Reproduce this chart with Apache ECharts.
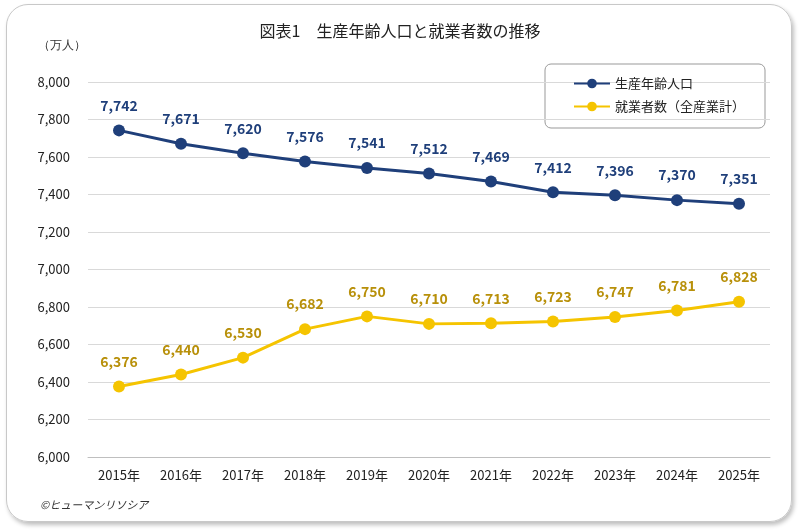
<!DOCTYPE html>
<html><head><meta charset="utf-8">
<script src="https://cdn.jsdelivr.net/npm/echarts@6/dist/echarts.min.js"></script>
<style>
html,body{margin:0;padding:0;background:#fff;}
#frame{position:absolute;left:6px;top:4px;width:786px;height:518px;border:1.5px solid #c8c8c8;border-radius:22px;box-shadow:2px 3px 4px rgba(0,0,0,0.25);box-sizing:border-box;}
#c{position:absolute;left:0;top:0;width:800px;height:530px;}
</style></head>
<body><div id="frame"></div><div id="c"></div>
<script>
const categories=['2015年','2016年','2017年','2018年','2019年','2020年','2021年','2022年','2023年','2024年','2025年'];
const workingAgePop=[7742,7671,7620,7576,7541,7512,7469,7412,7396,7370,7351];
const employed=[6376,6440,6530,6682,6750,6710,6713,6723,6747,6781,6828];
const seriesNames=['生産年齢人口','就業者数（全産業計）'];
const font='"Noto Sans CJK JP","Noto Sans",sans-serif';
const chart=echarts.init(document.getElementById('c'));
chart.setOption({
  animation:false,
  textStyle:{fontFamily:font},
  title:{text:'図表1　生産年齢人口と就業者数の推移',left:'center',top:18,textStyle:{fontSize:16,fontWeight:'normal',color:'#222',fontFamily:font}},
  graphic:[
    {type:'text',left:38,top:40,style:{text:'（万人）',fontSize:12,fill:'#333',font:'12px '+font}},
    {type:'text',left:40,top:499,style:{text:'©ヒューマンリソシア',fill:'#333',font:'italic 11px '+font}},
    {type:'rect',shape:{x:545,y:64,width:220,height:64,r:6},style:{fill:'#fff',stroke:'#999',lineWidth:1},z:0}
  ],
  legend:{right:50,top:72,orient:'vertical',itemGap:10,itemWidth:36,itemHeight:12,
    textStyle:{fontSize:13,color:'#222',fontFamily:font},data:seriesNames},
  grid:{left:88,right:30,top:82,bottom:73},
  xAxis:{type:'category',data:categories,boundaryGap:true,
    axisLine:{lineStyle:{color:'#bfbfbf'}},axisTick:{show:false},
    axisLabel:{color:'#222',fontSize:13,margin:12}},
  yAxis:{type:'value',min:6000,max:8000,interval:200,
    axisLine:{show:false},axisTick:{show:false},
    splitLine:{lineStyle:{color:'#d9d9d9'}},
    axisLabel:{color:'#222',fontSize:13,margin:18,formatter:v=>v.toLocaleString('en-US')}},
  series:[
    {name:seriesNames[0],type:'line',data:workingAgePop,symbol:'circle',symbolSize:12,
      lineStyle:{width:3,color:'#1f3f7a'},itemStyle:{color:'#1f3f7a'},
      label:{show:true,position:'top',distance:12,color:'#1f3f7a',fontWeight:'bold',fontSize:14,formatter:p=>p.value.toLocaleString('en-US')}},
    {name:seriesNames[1],type:'line',data:employed,symbol:'circle',symbolSize:12,
      lineStyle:{width:3,color:'#f5c400'},itemStyle:{color:'#f5c400'},
      label:{show:true,position:'top',distance:12,color:'#b8900a',fontWeight:'bold',fontSize:14,formatter:p=>p.value.toLocaleString('en-US')}}
  ]
});
</script></body></html>
